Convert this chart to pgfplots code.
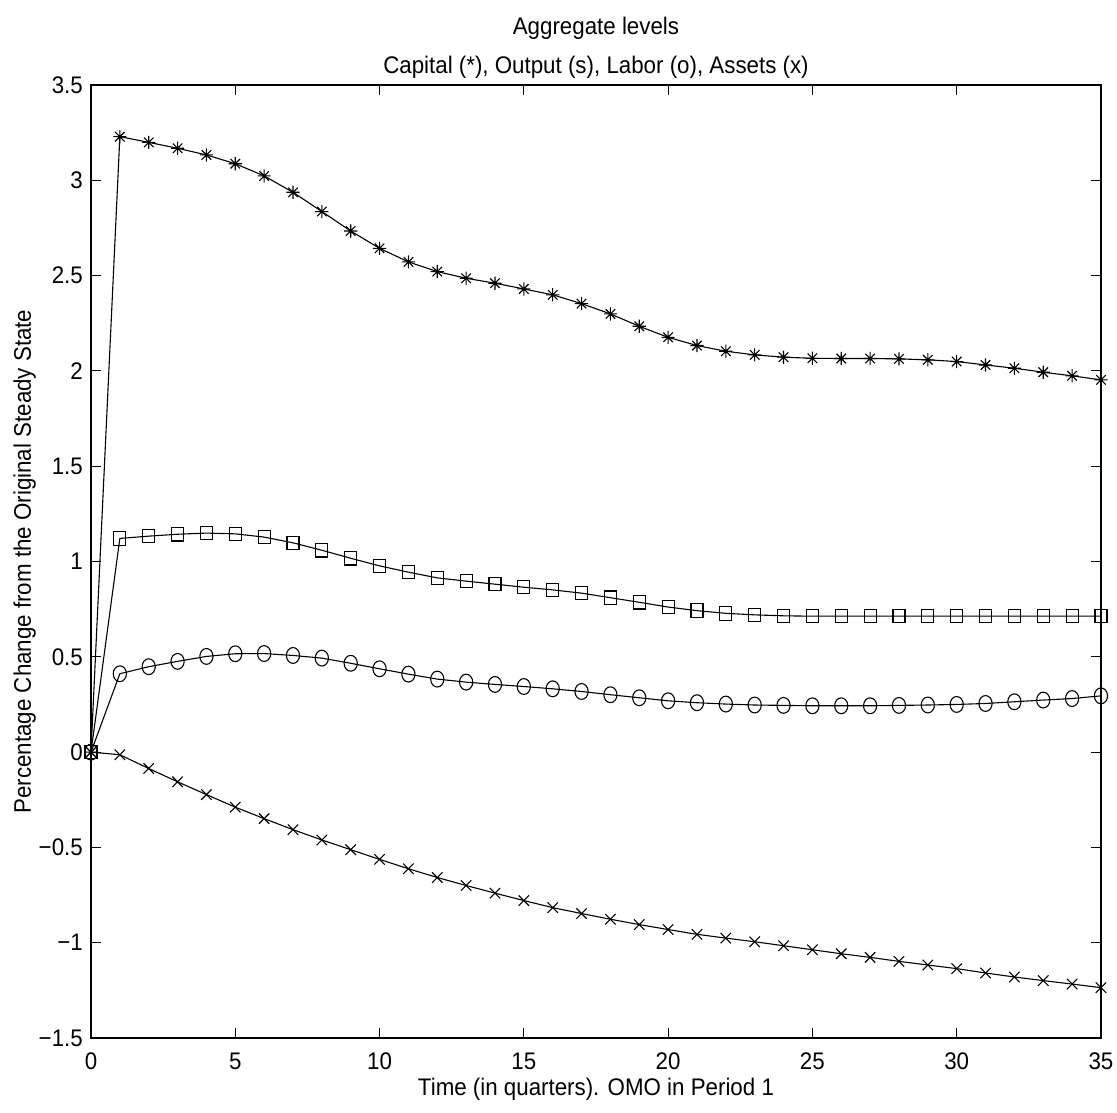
\documentclass[border=0pt]{standalone}
\usepackage{fontspec}
\setmainfont{Liberation Sans}[FakeStretch=0.93]
\usepackage{pgfplots}
\pgfplotsset{compat=1.18}
\pgfdeclareplotmark{mstar}{%
 \pgfpathmoveto{\pgfqpoint{0pt}{\pgfplotmarksize}}\pgfpathlineto{\pgfqpoint{0pt}{-\pgfplotmarksize}}%
 \pgfpathmoveto{\pgfqpoint{\pgfplotmarksize}{0pt}}\pgfpathlineto{\pgfqpoint{-\pgfplotmarksize}{0pt}}%
 \pgfpathmoveto{\pgfqpoint{.72\pgfplotmarksize}{.72\pgfplotmarksize}}\pgfpathlineto{\pgfqpoint{-.72\pgfplotmarksize}{-.72\pgfplotmarksize}}%
 \pgfpathmoveto{\pgfqpoint{-.72\pgfplotmarksize}{.72\pgfplotmarksize}}\pgfpathlineto{\pgfqpoint{.72\pgfplotmarksize}{-.72\pgfplotmarksize}}%
 \pgfusepathqstroke}
\pgfdeclareplotmark{mx}{%
 \pgfpathmoveto{\pgfqpoint{\pgfplotmarksize}{\pgfplotmarksize}}\pgfpathlineto{\pgfqpoint{-\pgfplotmarksize}{-\pgfplotmarksize}}%
 \pgfpathmoveto{\pgfqpoint{-\pgfplotmarksize}{\pgfplotmarksize}}\pgfpathlineto{\pgfqpoint{\pgfplotmarksize}{-\pgfplotmarksize}}%
 \pgfusepathqstroke}
\pgfdeclareplotmark{mo}{%
 \pgfpathellipse{\pgfpointorigin}{\pgfqpoint{\pgfplotmarksize}{0pt}}{\pgfqpoint{0pt}{1.2\pgfplotmarksize}}%
 \pgfusepathqstroke}
\pgfdeclareplotmark{msq}{%
 \pgfpathrectangle{\pgfqpoint{-\pgfplotmarksize}{-1.12\pgfplotmarksize}}{\pgfqpoint{2\pgfplotmarksize}{2.24\pgfplotmarksize}}%
 \pgfusepathqstroke}

\pgfplotstableread{
x cap out lab ass
0 0 0 0 0
1 3.229 1.121 0.411 -0.014
2 3.199 1.133 0.448 -0.086
3 3.168 1.143 0.476 -0.156
4 3.133 1.149 0.502 -0.223
5 3.087 1.145 0.516 -0.289
6 3.023 1.128 0.517 -0.349
7 2.937 1.098 0.507 -0.407
8 2.836 1.059 0.493 -0.461
9 2.734 1.017 0.466 -0.512
10 2.643 0.977 0.437 -0.563
11 2.572 0.944 0.409 -0.612
12 2.521 0.914 0.383 -0.658
13 2.486 0.897 0.367 -0.700
14 2.460 0.881 0.355 -0.740
15 2.430 0.865 0.344 -0.779
16 2.399 0.851 0.332 -0.816
17 2.353 0.834 0.318 -0.847
18 2.299 0.810 0.301 -0.877
19 2.234 0.786 0.285 -0.905
20 2.176 0.761 0.269 -0.931
21 2.133 0.742 0.259 -0.956
22 2.103 0.728 0.252 -0.976
23 2.084 0.720 0.247 -0.995
24 2.072 0.715 0.245 -1.016
25 2.066 0.713 0.243 -1.037
26 2.065 0.713 0.243 -1.058
27 2.065 0.713 0.243 -1.077
28 2.063 0.713 0.245 -1.098
29 2.058 0.713 0.247 -1.117
30 2.049 0.713 0.250 -1.136
31 2.031 0.713 0.255 -1.159
32 2.014 0.713 0.264 -1.180
33 1.993 0.713 0.273 -1.199
34 1.974 0.713 0.281 -1.217
35 1.953 0.713 0.295 -1.236
}\datatab

\begin{document}
\begin{tikzpicture}[font=\fontsize{24}{28.8}\selectfont]
\useasboundingbox (-91pt,-75pt) rectangle (1026pt,1038pt);
\begin{axis}[
  at={(0,0)}, anchor=south west,
  scale only axis, width=1010pt, height=953pt,
  xmin=0, xmax=35, ymin=-1.5, ymax=3.5,
  xtick={0,5,10,15,20,25,30,35},
  xticklabels={0,5,10,15,20,25,30,35},
  ytick={-1.5,-1,-0.5,0,0.5,1,1.5,2,2.5,3,3.5},
  yticklabels={−1.5,−1,−0.5,0,0.5,1,1.5,2,2.5,3,3.5},
  tick align=inside, tick pos=both,
  major tick length=10pt,
  every tick/.style={black, line width=1pt},
  axis line style={line width=1.8pt},
  xticklabel style={font=\fontsize{24}{28.8}\selectfont, inner sep=0pt, anchor=north, yshift=-15pt},
  yticklabel style={font=\fontsize{24}{28.8}\selectfont, inner sep=0pt, anchor=east, xshift=-8pt},
  title={Aggregate levels\\[11pt]Capital (*), Output (s), Labor (o), Assets (x)},
  title style={font=\fontsize{24}{28.8}\selectfont, align=center, at={(axis description cs:0.5,1)}, anchor=south, inner sep=0pt, yshift=0pt},
  xlabel={Time (in quarters). OMO in Period 1},
  xlabel style={font=\fontsize{24}{28.8}\selectfont, at={(axis description cs:0.5,0)}, anchor=north, inner sep=0pt, yshift=-40pt},
  ylabel={Percentage Change from the Original Steady State},
  ylabel style={font=\fontsize{24}{28.8}\selectfont, at={(axis description cs:0,0.5)}, anchor=south, inner sep=0pt, yshift=55pt},
  every axis plot/.append style={black, line width=1.1pt},
]
\addplot[mark=mstar, mark size=6.6pt] table[x=x, y=cap] {\datatab};
\addplot[mark=msq, mark size=6pt] table[x=x, y=out] {\datatab};
\addplot[mark=mo, mark size=6.6pt] table[x=x, y=lab] {\datatab};
\addplot[mark=mx, mark size=5.2pt] table[x=x, y=ass] {\datatab};
\end{axis}
\end{tikzpicture}
\end{document}
